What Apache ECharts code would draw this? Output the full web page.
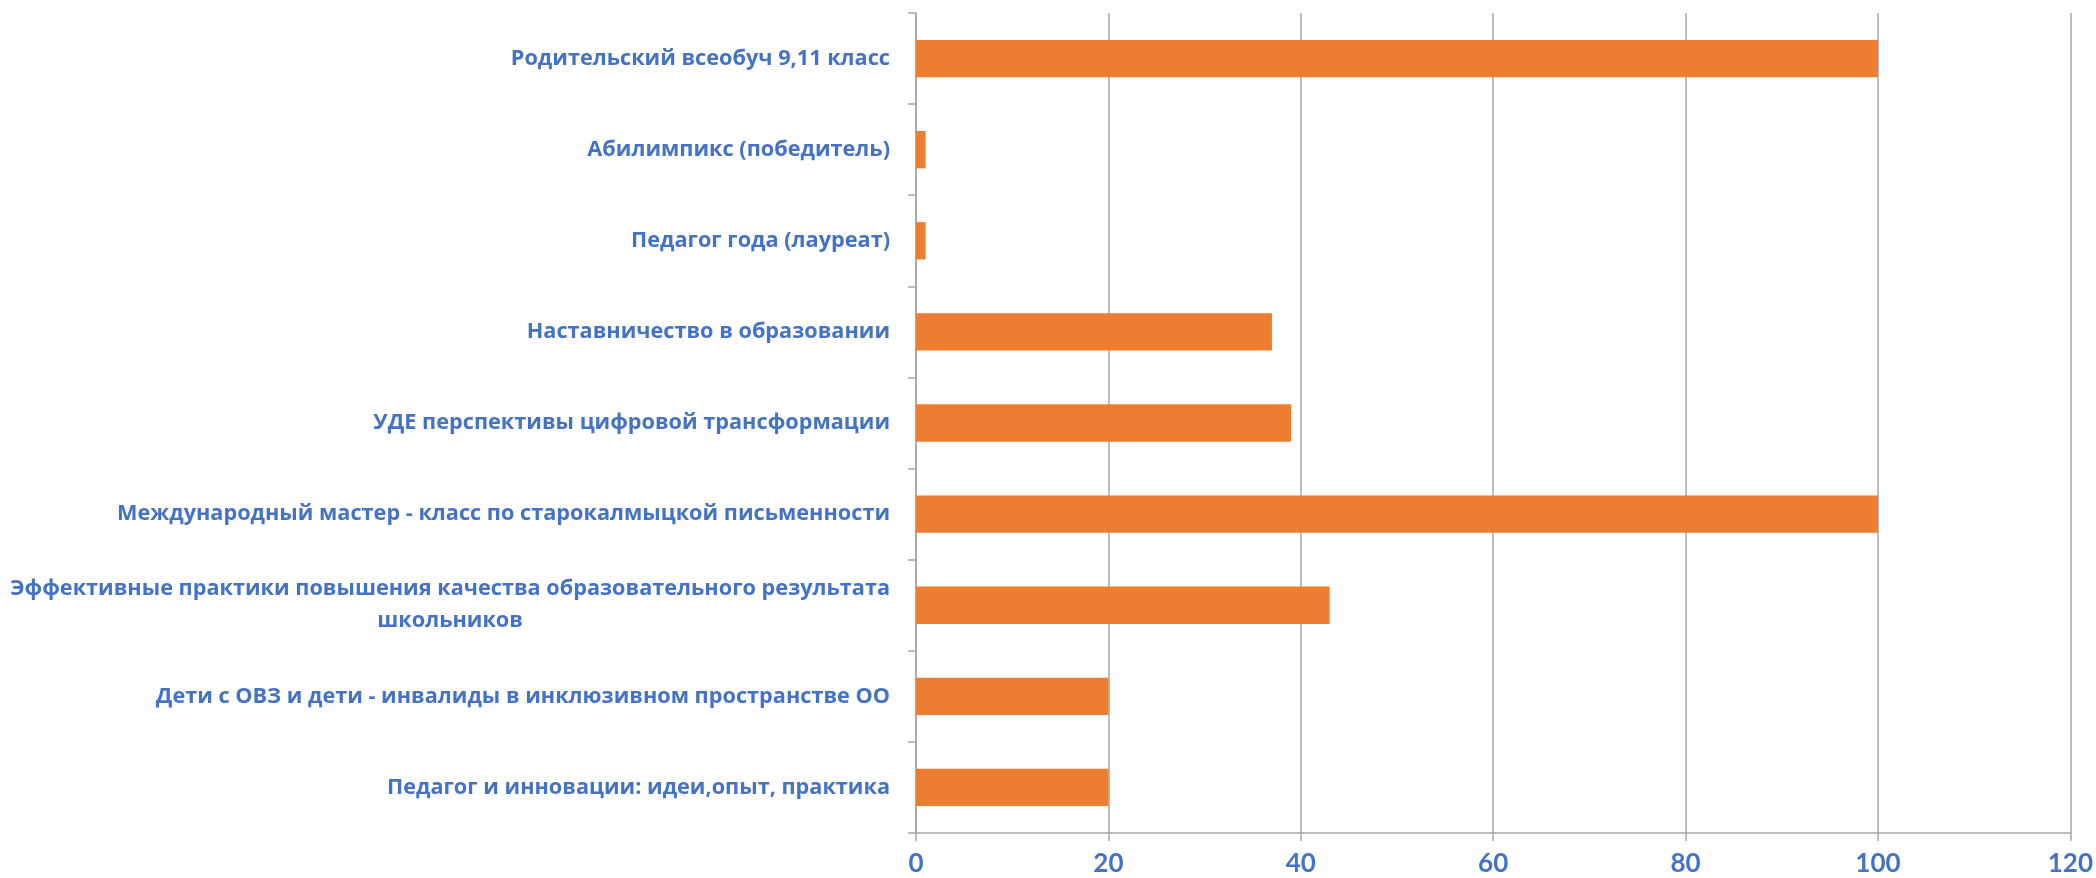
<!DOCTYPE html>
<html>
<head>
<meta charset="utf-8">
<script src="https://cdn.jsdelivr.net/npm/echarts@6/dist/echarts.min.js"></script>
<style>
html,body{margin:0;padding:0;background:#fff;}
#chart{width:2096px;height:878px;}
</style>
</head>
<body>
<div id="chart"></div>
<script>
// categories bottom-to-top (ECharts category y axis starts at bottom)
const categories = [
  "Педагог и инновации: идеи,опыт, практика",
  "Дети с ОВЗ и дети - инвалиды в инклюзивном пространстве ОО",
  "Эффективные практики повышения качества образовательного результата\nшкольников",
  "Международный мастер - класс по старокалмыцкой письменности",
  "УДЕ перспективы цифровой трансформации",
  "Наставничество в образовании",
  "Педагог года (лауреат)",
  "Абилимпикс (победитель)",
  "Родительский всеобуч 9,11 класс"
];
const values = [20, 20, 43, 100, 39, 37, 1, 1, 100];
const xTicks = [0, 20, 40, 60, 80, 100, 120];

const blue = '#4472C4';
const orange = '#ED7D31';
const gray = '#A6A6A6';
const catFont = '"Open Sans", sans-serif';
const numFont = 'Lato, "Open Sans", sans-serif';
const fs = 21.7;

const chart = echarts.init(document.getElementById('chart'), null, {renderer: 'canvas'});
chart.setOption({
  animation: false,
  backgroundColor: '#fff',
  grid: {left: 916, right: 21, top: 13, bottom: 45, containLabel: false},
  xAxis: {
    type: 'value',
    min: xTicks[0],
    max: xTicks[xTicks.length - 1],
    interval: 20,
    axisLine: {show: true, lineStyle: {color: gray, width: 1.5}},
    axisTick: {show: true, length: 8, lineStyle: {color: gray, width: 1.5}},
    splitLine: {show: true, lineStyle: {color: gray, width: 1.5}},
    axisLabel: {color: blue, fontFamily: numFont, fontWeight: 'bold', fontSize: 26, margin: 18}
  },
  yAxis: {
    type: 'category',
    data: categories,
    axisLine: {show: true, lineStyle: {color: gray, width: 1.5}},
    axisTick: {show: true, length: 8, lineStyle: {color: gray, width: 1.5}},
    axisLabel: {
      color: blue, fontFamily: catFont, fontWeight: 'bold', fontSize: fs, margin: 26,
      lineHeight: 32,
      formatter: function (v) {
        return v.split('\n').map(function (s) { return '{c|' + s + '}'; }).join('\n');
      },
      rich: {c: {align: 'center', color: blue, fontFamily: catFont, fontWeight: 'bold', fontSize: fs, lineHeight: 32}}
    }
  },
  series: [{
    type: 'bar',
    data: values,
    barCategoryGap: '59%',
    itemStyle: {color: orange}
  }]
});
</script>
</body>
</html>
